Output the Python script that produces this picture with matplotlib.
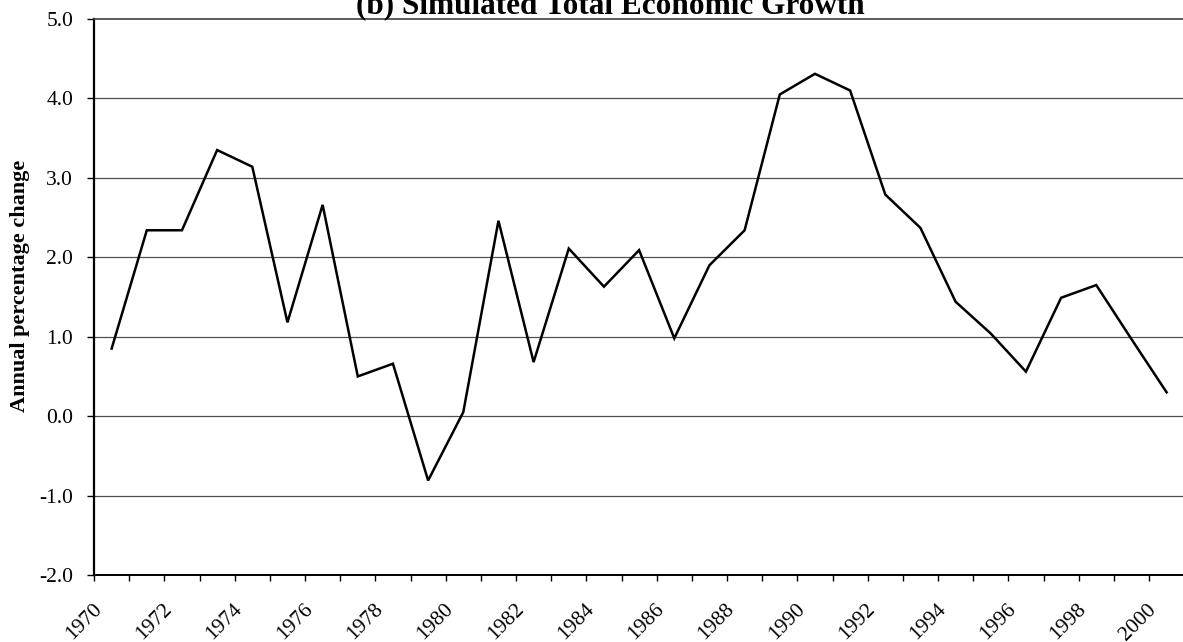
import matplotlib
matplotlib.use("Agg")
import matplotlib.pyplot as plt
import matplotlib.transforms as mtrans
import numpy as np

# Simulated total economic growth, annual percentage change
years = list(range(1970, 2001))
growth = [0.85, 2.34, 2.34, 3.35, 3.14, 1.18, 2.66, 0.50, 0.66, -0.81,
          0.05, 2.46, 0.68, 2.11, 1.63, 2.09, 0.98, 1.90, 2.34, 4.05,
          4.31, 4.10, 2.79, 2.37, 1.44, 1.04, 0.56, 1.49, 1.65, 0.97,
          0.30]
label_years = years[::2]
y_ticks = [-2.0, -1.0, 0.0, 1.0, 2.0, 3.0, 4.0, 5.0]

plt.rcParams["font.family"] = ["Liberation Serif", "DejaVu Serif"]

fig = plt.figure(figsize=(11.83, 6.42), dpi=100)
ax = fig.add_axes([0.0795, 0.1044, 0.9215, 0.866])

x = np.arange(len(years))
ax.plot(x, growth, color="black", lw=1.8, solid_joinstyle="miter")

ax.set_xlim(-0.5, len(years) - 0.5)
ax.set_ylim(-2.0, 5.0)

# horizontal gridlines at every whole percent
for v in y_ticks[1:-1]:
    ax.axhline(v, color="#505050", lw=0.9, zorder=0)

ax.set_yticks(y_ticks)
ax.set_yticklabels([f"{v:.1f}" for v in y_ticks], fontsize=15.5)
ax.tick_params(axis="y", direction="out", length=5, width=1, pad=10)

# labels every second year, tick marks on category boundaries
pos = [years.index(y) for y in label_years]
ax.set_xticks(pos)
ax.set_xticklabels([str(y) for y in label_years], fontsize=15.5,
                   rotation=45, ha="right", va="top")
ax.tick_params(axis="x", which="major", length=0, pad=18)
ax.set_xticks(np.arange(-0.5, len(years) + 0.5, 1.0), minor=True)
ax.tick_params(axis="x", which="minor", direction="out", length=4, width=1)
offset = mtrans.ScaledTranslation(-0.06, 0, fig.dpi_scale_trans)
for lab in ax.get_xticklabels():
    lab.set_transform(lab.get_transform() + offset)

ax.spines["right"].set_visible(False)
ax.spines["left"].set_linewidth(1.6)
ax.spines["bottom"].set_linewidth(1.4)
ax.spines["top"].set_linewidth(1.2)
ax.spines["top"].set_color("#404040")

ax.set_ylabel("Annual percentage change", fontsize=16, fontweight="bold")
ax.yaxis.set_label_coords(-0.059, 0.52)

fig.text(0.516, 1 - 13 / 642, "(b) Simulated Total Economic Growth",
         ha="center", va="baseline", fontsize=22.5, fontweight="bold")

fig.savefig("out.png", dpi=100)
